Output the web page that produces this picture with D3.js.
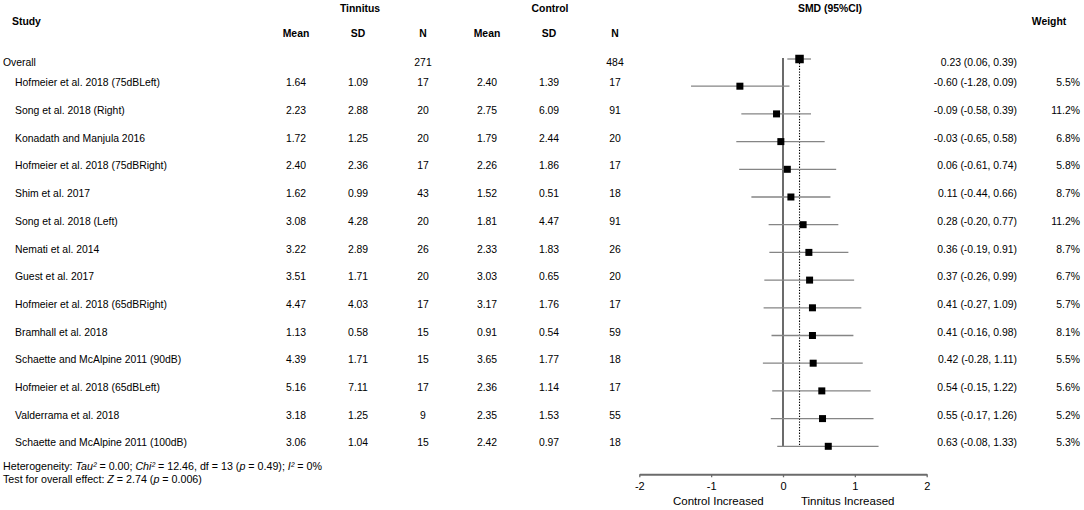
<!DOCTYPE html>
<html>
<head>
<meta charset="utf-8">
<script src="https://cdn.jsdelivr.net/npm/d3@7/dist/d3.min.js"></script>
<style>
  html, body { margin: 0; padding: 0; background: #fff; }
  svg { display: block; }
  text { font-family: "Liberation Sans", Arial, Helvetica, sans-serif; fill: #000; }
</style>
</head>
<body>
<svg id="chart" width="1084" height="510"></svg>
<script>
// ---- data ----
const studies = [
  "Hofmeier et al. 2018 (75dBLeft)",
  "Song et al. 2018 (Right)",
  "Konadath and Manjula 2016",
  "Hofmeier et al. 2018 (75dBRight)",
  "Shim et al. 2017",
  "Song et al. 2018 (Left)",
  "Nemati et al. 2014",
  "Guest et al. 2017",
  "Hofmeier et al. 2018 (65dBRight)",
  "Bramhall et al. 2018",
  "Schaette and McAlpine 2011 (90dB)",
  "Hofmeier et al. 2018 (65dBLeft)",
  "Valderrama et al. 2018",
  "Schaette and McAlpine 2011 (100dB)"
];
const tMean = [1.64, 2.23, 1.72, 2.40, 1.62, 3.08, 3.22, 3.51, 4.47, 1.13, 4.39, 5.16, 3.18, 3.06];
const tSD   = [1.09, 2.88, 1.25, 2.36, 0.99, 4.28, 2.89, 1.71, 4.03, 0.58, 1.71, 7.11, 1.25, 1.04];
const tN    = [17, 20, 20, 17, 43, 20, 26, 20, 17, 15, 15, 17, 9, 15];
const cMean = [2.40, 2.75, 1.79, 2.26, 1.52, 1.81, 2.33, 3.03, 3.17, 0.91, 3.65, 2.36, 2.35, 2.42];
const cSD   = [1.39, 6.09, 2.44, 1.86, 0.51, 4.47, 1.83, 0.65, 1.76, 0.54, 1.77, 1.14, 1.53, 0.97];
const cN    = [17, 91, 20, 17, 18, 91, 26, 20, 17, 59, 18, 17, 55, 18];
const smd   = [-0.60, -0.09, -0.03, 0.06, 0.11, 0.28, 0.36, 0.37, 0.41, 0.41, 0.42, 0.54, 0.55, 0.63];
const ciLo  = [-1.28, -0.58, -0.65, -0.61, -0.44, -0.20, -0.19, -0.26, -0.27, -0.16, -0.28, -0.15, -0.17, -0.08];
const ciHi  = [0.09, 0.39, 0.58, 0.74, 0.66, 0.77, 0.91, 0.99, 1.09, 0.98, 1.11, 1.22, 1.26, 1.33];
const weight = [5.5, 11.2, 6.8, 5.8, 8.7, 11.2, 8.7, 6.7, 5.7, 8.1, 5.5, 5.6, 5.2, 5.3];
const overall = { label: "Overall", tN: 271, cN: 484, smd: 0.23, lo: 0.06, hi: 0.39 };
const axisTicks = [-2, -1, 0, 1, 2];
const axisLabels = ["Control Increased", "Tinnitus Increased"];
const footer1 = [
  { t: "Heterogeneity: ", i: false }, { t: "Tau²", i: true }, { t: " = 0.00; ", i: false },
  { t: "Chi²", i: true }, { t: " = 12.46, df = 13 (", i: false }, { t: "p", i: true },
  { t: " = 0.49); ", i: false }, { t: "I²", i: true }, { t: " = 0%", i: false }
];
const footer2 = [
  { t: "Test for overall effect: ", i: false }, { t: "Z", i: true }, { t: " = 2.74 (", i: false },
  { t: "p", i: true }, { t: " = 0.006)", i: false }
];

// ---- layout ----
const FS = 10.4;
const svg = d3.select("#chart");
const x = d3.scaleLinear().domain([-2, 2]).range([639.3, 926.7]);
const y = d3.scalePoint().domain(d3.range(studies.length)).range([82.7, 442.8]);
const yOverall = 62.5;
const markOff = 3.5;
const loc = d3.formatLocale({ decimal: ".", thousands: ",", grouping: [3], currency: ["", ""], minus: "-" });
const f2 = loc.format(".2f");
const f1 = loc.format(".1f");

const cols = { tMean: 296, tSD: 358, tN: 423, cMean: 487, cSD: 549, cN: 615, smd: 1017, w: 1080 };

function txt(xp, yp, s, anchor, opts = {}) {
  return svg.append("text")
    .attr("x", xp).attr("y", yp).attr("dy", "0.35em")
    .attr("text-anchor", anchor || "start")
    .style("font-size", (opts.size || FS) + "px")
    .style("font-weight", opts.bold ? "bold" : "normal")
    .text(s);
}

// headers
txt(12, 21.7, "Study", "start", { bold: true });
txt(360, 8.3, "Tinnitus", "middle", { bold: true });
txt(550, 8.3, "Control", "middle", { bold: true });
txt(830, 8.3, "SMD (95%CI)", "middle", { bold: true });
txt(1049, 21.7, "Weight", "middle", { bold: true });
[["Mean", cols.tMean], ["SD", cols.tSD], ["N", cols.tN], ["Mean", cols.cMean], ["SD", cols.cSD], ["N", cols.cN]]
  .forEach(([s, xp]) => txt(xp, 33.3, s, "middle", { bold: true }));

// overall row text
txt(3, yOverall, overall.label, "start");
txt(cols.tN, yOverall, overall.tN, "middle");
txt(cols.cN, yOverall, overall.cN, "middle");
txt(cols.smd, yOverall, `${f2(overall.smd)} (${f2(overall.lo)}, ${f2(overall.hi)})`, "end");

// study rows
studies.forEach((s, i) => {
  const yp = y(i);
  txt(15, yp, s, "start");
  txt(cols.tMean, yp, f2(tMean[i]), "middle");
  txt(cols.tSD, yp, f2(tSD[i]), "middle");
  txt(cols.tN, yp, tN[i], "middle");
  txt(cols.cMean, yp, f2(cMean[i]), "middle");
  txt(cols.cSD, yp, f2(cSD[i]), "middle");
  txt(cols.cN, yp, cN[i], "middle");
  txt(cols.smd, yp, `${f2(smd[i])} (${f2(ciLo[i])}, ${f2(ciHi[i])})`, "end");
  txt(cols.w, yp, f1(weight[i]) + "%", "end");
});

// forest plot
const plot = svg.append("g");
const yOvMark = yOverall - 3.5;
const yLastMark = y(studies.length - 1) + markOff;

// zero line
plot.append("line")
  .attr("x1", x(0)).attr("x2", x(0))
  .attr("y1", yOvMark - 1).attr("y2", yLastMark)
  .attr("stroke", "#6b6b6b").attr("stroke-width", 2);

// dotted overall line
plot.append("line")
  .attr("x1", x(overall.smd)).attr("x2", x(overall.smd))
  .attr("y1", yOvMark + 4).attr("y2", yLastMark)
  .attr("stroke", "#000").attr("stroke-width", 1.1)
  .attr("stroke-dasharray", "1.3,1.5");

// CI lines
plot.selectAll(".ci").data(studies).join("line")
  .attr("x1", (d, i) => x(ciLo[i])).attr("x2", (d, i) => x(ciHi[i]))
  .attr("y1", (d, i) => y(i) + markOff).attr("y2", (d, i) => y(i) + markOff)
  .attr("stroke", "#858585").attr("stroke-width", 1.3);

const sq = 7;
plot.selectAll(".sq").data(studies).join("rect")
  .attr("x", (d, i) => x(smd[i]) - sq / 2)
  .attr("y", (d, i) => y(i) + markOff - sq / 2)
  .attr("width", sq).attr("height", sq)
  .attr("fill", "#000");

// overall
plot.append("line")
  .attr("x1", x(overall.lo)).attr("x2", x(overall.hi))
  .attr("y1", yOvMark).attr("y2", yOvMark)
  .attr("stroke", "#858585").attr("stroke-width", 1.3);
const osq = 8.5;
plot.append("rect")
  .attr("x", x(overall.smd) - osq / 2).attr("y", yOvMark - osq / 2)
  .attr("width", osq).attr("height", osq).attr("fill", "#000");

// axis
const axisY = 474.3;
const ax = svg.append("g").attr("transform", `translate(0,${axisY})`)
  .call(d3.axisBottom(x).tickValues(axisTicks).tickSize(3).tickSizeOuter(0).tickFormat(loc.format("d")));
ax.select(".domain").attr("stroke", "#6b6b6b").attr("stroke-width", 2);
ax.selectAll(".tick line").attr("stroke", "#6b6b6b").attr("stroke-width", 1.3);
ax.selectAll(".tick text")
  .attr("y", 12).attr("dy", "0.35em")
  .style("font-size", "11px")
  .style("font-family", '"Liberation Sans", Arial, sans-serif')
  .attr("fill", "#000");

txt(x(-0.9), 501, axisLabels[0], "middle", { size: 11.5 });
txt(x(0.9), 501, axisLabels[1], "middle", { size: 11.5 });

// footer
function rich(xp, yp, parts) {
  const t = svg.append("text").attr("x", xp).attr("y", yp).attr("dy", "0.35em")
    .style("font-size", "10.7px");
  parts.forEach(p => t.append("tspan").style("font-style", p.i ? "italic" : "normal").text(p.t));
}
rich(3, 466, footer1);
rich(3, 479, footer2);
</script>
</body>
</html>
